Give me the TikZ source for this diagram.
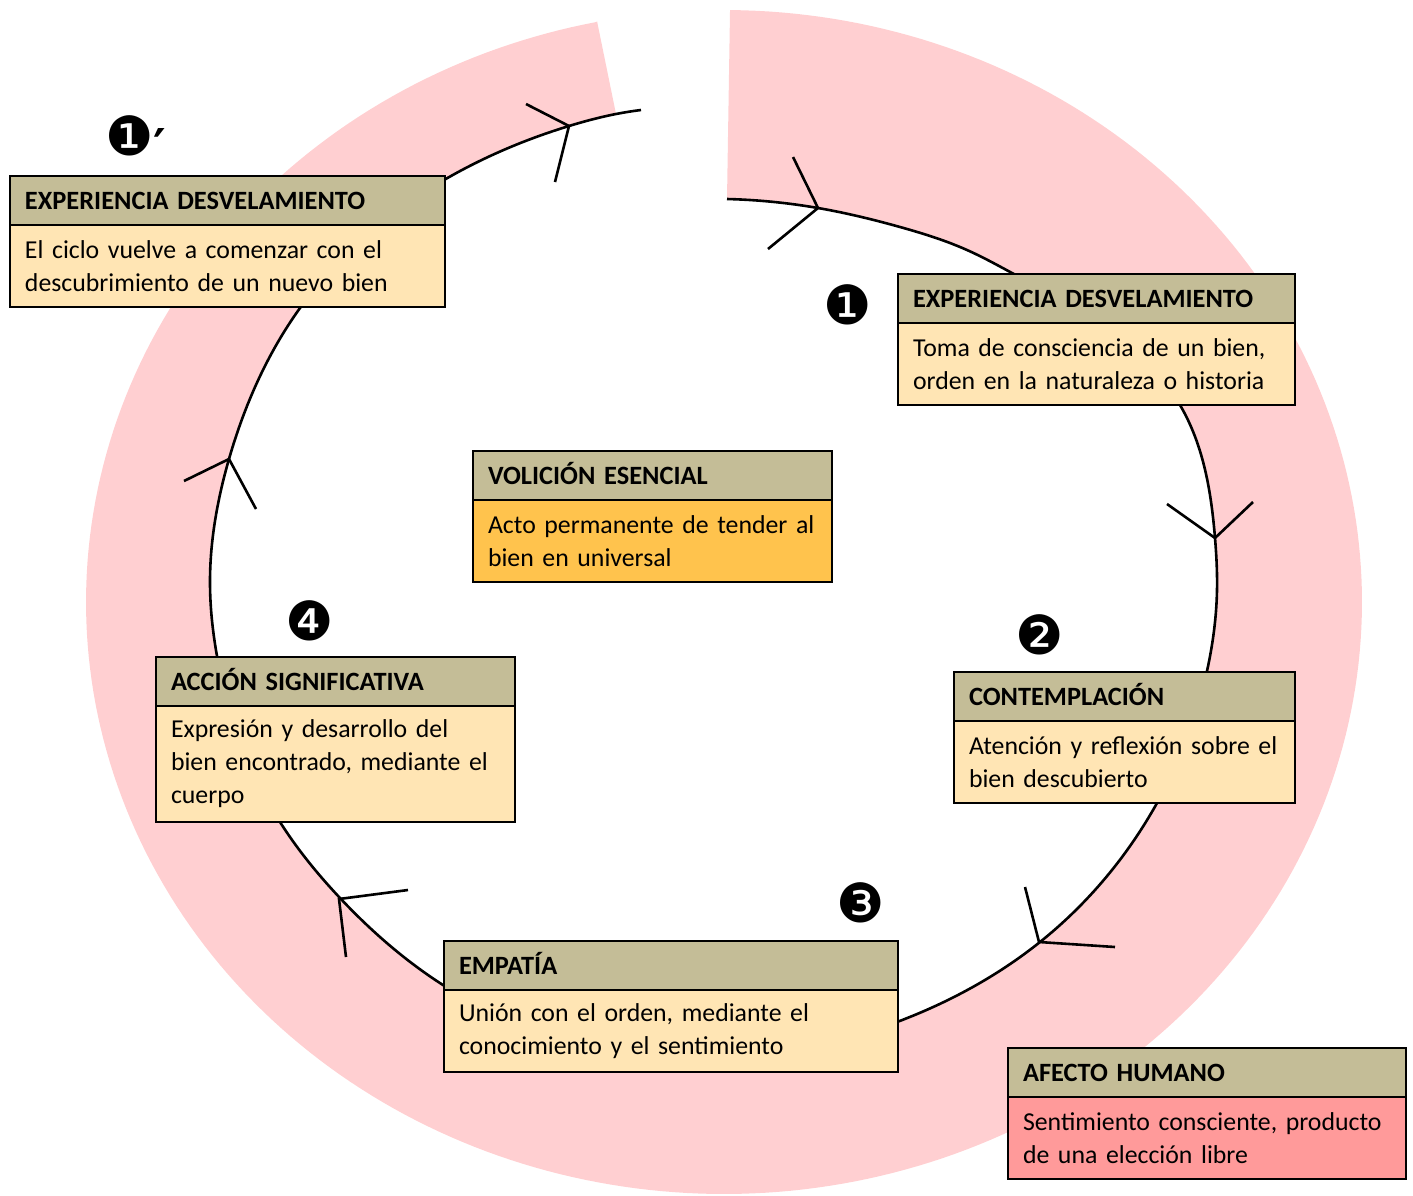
\documentclass[tikz,border=0pt]{standalone}
\usepackage{fontspec}
\setmainfont{Carlito}
\newfontfamily\numfont{DejaVu Sans}
\usetikzlibrary{hobby}
\definecolor{tanc}{HTML}{C4BD97}
\definecolor{peachc}{HTML}{FFE5B4}
\definecolor{orangec}{HTML}{FFC34D}
\definecolor{salmonc}{HTML}{FF9A9A}
\definecolor{pinkc}{HTML}{FFCFD1}
\tikzset{
  hdr/.style={draw=black, line width=1.4pt, fill=tanc, anchor=north west, outer sep=0pt,
    minimum height=24.5pt, inner xsep=7.5pt, inner ysep=0pt, align=left,
    text height=8.5pt, text depth=0pt,
    font=\bfseries\fontsize{13.2}{16.5}\selectfont},
  bdy/.style={draw=black, line width=1.4pt, fill=peachc, anchor=north west, outer sep=0pt,
    inner xsep=7.5pt, inner ysep=0pt, align=left,
    font=\fontsize{12.9}{16.5}\selectfont},
  curve/.style={draw=black, line width=1.3pt},
  arrowmark/.style={draw=black, line width=1.3pt},
  num/.style={inner sep=0pt, font=\numfont\fontsize{27}{27}\selectfont}
}
\begin{document}
\begin{tikzpicture}[x=0.5pt,y=-0.5pt]
\useasboundingbox (0,0) rectangle (1413,1195);
% pink band
\fill[pinkc, use Hobby shortcut] (727,199) .. (818,208) .. (900,227) .. (967,250) .. (1012,273) .. (1180,405) .. (1215,538) .. (1217,590) .. (1207,671) .. (1157,803) .. (1040,942) .. (897,1022) .. (670,1058) .. (443,985) .. (340,898) .. (280,822) .. (217,656) .. (210,580) .. (229,459) .. (300,308) .. (444,180) .. (569,126) .. (616,114) .. (641,110)
  -- (616,114) -- (597,21) -- plot[domain=101.5:449.46, samples=300] ({724+638*cos(\x)},{602-592*sin(\x)}) -- cycle;
% black cycle curve
\draw[curve, use Hobby shortcut] (727,199) .. (818,208) .. (900,227) .. (967,250) .. (1012,273) .. (1180,405) .. (1215,538) .. (1217,590) .. (1207,671) .. (1157,803) .. (1040,942) .. (897,1022) .. (670,1058) .. (443,985) .. (340,898) .. (280,822) .. (217,656) .. (210,580) .. (229,459) .. (300,308) .. (444,180) .. (569,126) .. (616,114) .. (641,110);
% arrow marks
\draw[arrowmark] (793,157) -- (818,208) -- (768,249);
\draw[arrowmark] (1167,504) -- (1215,538) -- (1253,502);
\draw[arrowmark] (1025,887) -- (1039,942) -- (1115,947);
\draw[arrowmark] (408,890) -- (339,899) -- (346,957);
\draw[arrowmark] (184,481) -- (229,459) -- (256,509);
\draw[arrowmark] (526,104) -- (569,126) -- (555,182);
% boxes
\node[hdr, text width=202.5pt] (h1p) at (10,176) {EXPERIENCIA DESVELAMIENTO};
\node[bdy, text width=202.5pt, minimum height=41pt] (b1p) at (h1p.south west) {\mbox{El ciclo vuelve a comenzar con el}\\\mbox{descubrimiento de un nuevo bien}};
\node[hdr, text width=183.5pt] (h1) at (898,274) {EXPERIENCIA DESVELAMIENTO};
\node[bdy, text width=183.5pt, minimum height=41pt] (b1) at (h1.south west) {\mbox{Toma de consciencia de un bien,}\\\mbox{orden en la naturaleza o historia}};
\node[hdr, text width=164.5pt] (hv) at (473,451) {VOLICIÓN ESENCIAL};
\node[bdy, fill=orangec, text width=164.5pt, minimum height=41pt] (bv) at (hv.south west) {\mbox{Acto permanente de tender al}\\\mbox{bien en universal}};
\node[hdr, text width=155.5pt] (h2) at (954,672) {CONTEMPLACIÓN};
\node[bdy, text width=155.5pt, minimum height=41pt] (b2) at (h2.south west) {\mbox{Atención y reflexión sobre el}\\\mbox{bien descubierto}};
\node[hdr, text width=164.5pt] (h4) at (156,657) {ACCIÓN SIGNIFICATIVA};
\node[bdy, text width=164.5pt, minimum height=58pt] (b4) at (h4.south west) {\mbox{Expresión y desarrollo del}\\\mbox{bien encontrado, mediante el}\\\mbox{cuerpo}};
\node[hdr, text width=212pt] (h3) at (444,941) {EMPATÍA};
\node[bdy, text width=212pt, minimum height=41pt] (b3) at (h3.south west) {\mbox{Unión con el orden, mediante el}\\\mbox{conocimiento y el sentimiento}};
\node[hdr, text width=184pt] (ha) at (1008,1048) {AFECTO HUMANO};
\node[bdy, fill=salmonc, text width=184pt, minimum height=41pt] (ba) at (ha.south west) {\mbox{Sentimiento consciente, producto}\\\mbox{de una elección libre}};
% numbers
\node[num, anchor=west] (n1p) at (105,140) {❶\raisebox{-4pt}{\bfseries\fontsize{24}{24}\selectfont ′}};
\node[num] (n1) at (848,305) {❶};
\node[num] (n2) at (1040,635) {❷};
\node[num] (n3) at (861,903) {❸};
\node[num] (n4) at (310,621) {❹};
\end{tikzpicture}
\end{document}
